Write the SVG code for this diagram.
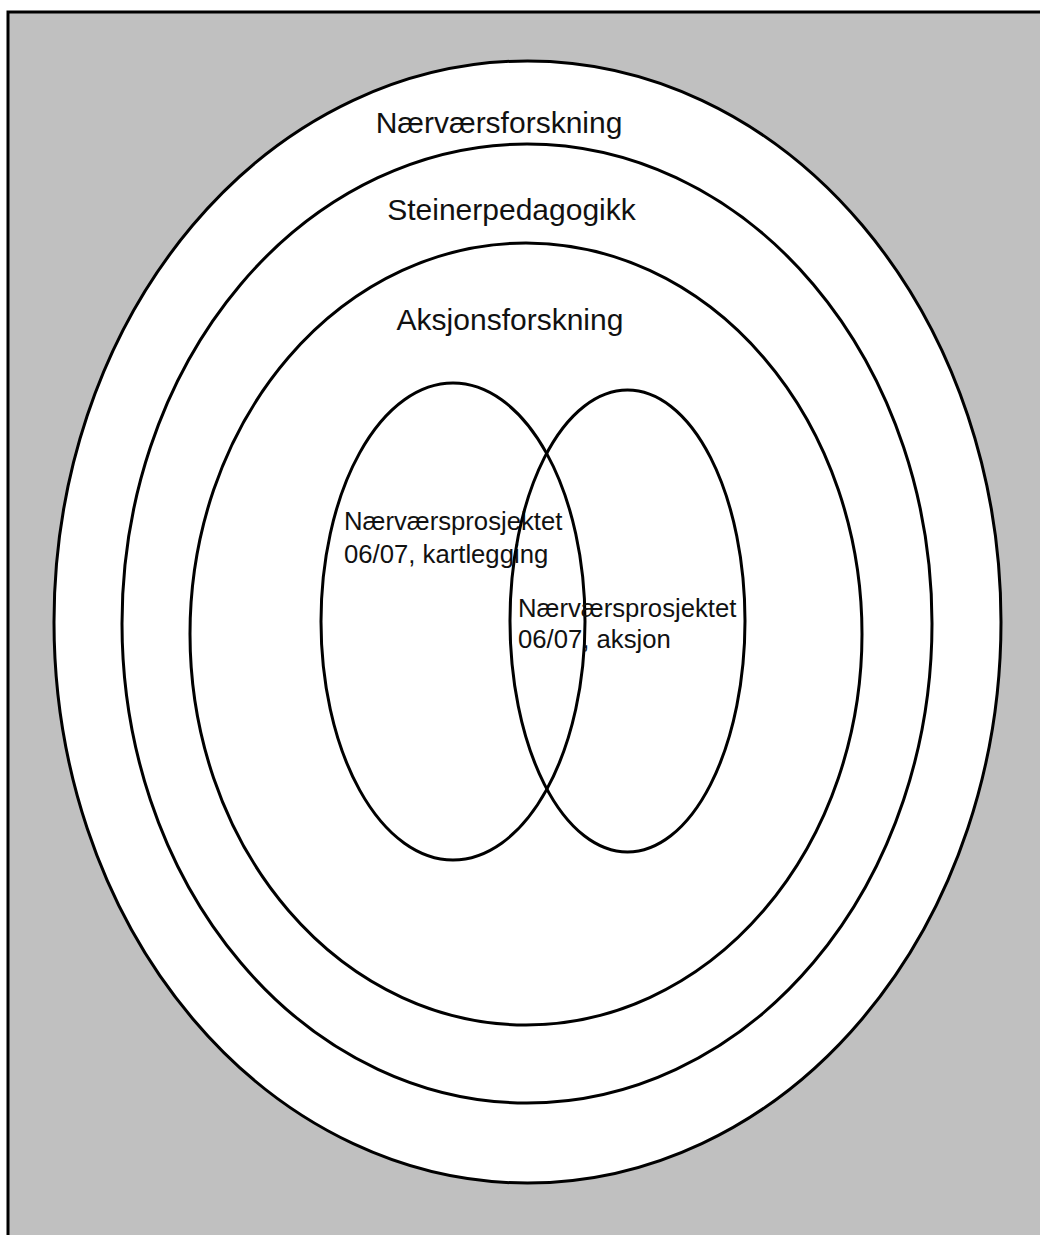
<svg xmlns="http://www.w3.org/2000/svg" width="1040" height="1235" viewBox="0 0 1040 1235">
<style>
.ring{fill:#fff;stroke:#000;stroke-width:3}
.set{fill:none;stroke:#000;stroke-width:3}
.big{font-family:"Liberation Sans",Arial,sans-serif;font-size:30px;fill:#111;text-anchor:middle}
.small{font-family:"Liberation Sans",Arial,sans-serif;font-size:25.7px;fill:#111}
</style>
<rect x="0" y="0" width="1040" height="1235" fill="#fff"/>
<rect x="8" y="12" width="1040" height="1235" fill="#c0c0c0" stroke="#000" stroke-width="3"/>
<g id="naervaersforskning">
<ellipse class="ring" cx="527.5" cy="622" rx="473.5" ry="561"/>
<text class="big" x="499" y="133">Nærværsforskning</text>
</g>
<g id="steinerpedagogikk">
<ellipse class="ring" cx="527" cy="623.5" rx="405" ry="479.5"/>
<text class="big" x="511.5" y="220">Steinerpedagogikk</text>
</g>
<g id="aksjonsforskning">
<ellipse class="ring" cx="526" cy="634" rx="336" ry="391"/>
<text class="big" x="510" y="330">Aksjonsforskning</text>
</g>
<g id="kartlegging">
<ellipse class="set" cx="453" cy="621.5" rx="132" ry="238.5"/>
<text class="small" x="344" y="530">Nærværsprosjektet</text>
<text class="small" x="344" y="563">06/07, kartlegging</text>
</g>
<g id="aksjon">
<ellipse class="set" cx="627.5" cy="621" rx="117.5" ry="231"/>
<text class="small" x="518" y="617">Nærværsprosjektet</text>
<text class="small" x="518" y="648">06/07, aksjon</text>
</g>
<g id="connectors"></g>
</svg>
